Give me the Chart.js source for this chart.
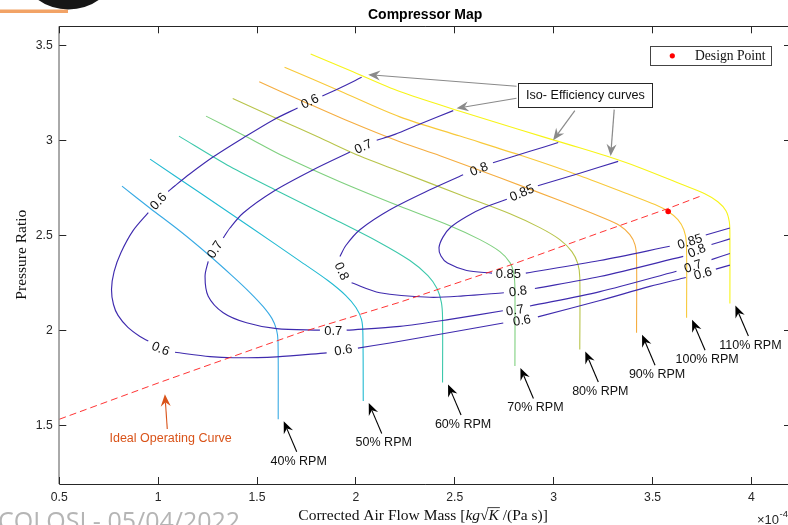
<!DOCTYPE html>
<html>
<head>
<meta charset="utf-8">
<title>Compressor Map</title>
<script src="https://cdn.jsdelivr.net/npm/chart.js@4.4.1/dist/chart.umd.min.js"></script>
<style>
  html, body { margin: 0; padding: 0; background: #ffffff; overflow: hidden; }
  #wrap { width: 788px; height: 525px; overflow: hidden; position: relative; }
  canvas { display: block; }
</style>
</head>
<body>
<div id="wrap"><canvas id="map" width="800" height="525"></canvas></div>
<script>
// ---------- axis ticks ----------
const xTicks = [0.5, 1, 1.5, 2, 2.5, 3, 3.5, 4];
const yTicks = [1.5, 2, 2.5, 3, 3.5];

// ---------- constant-speed lines: [corrected air flow mass (x1e-4), pressure ratio] ----------
const speed40 = [[0.817,2.760],[0.959,2.644],[1.110,2.524],[1.247,2.406],[1.373,2.290],[1.464,2.201],[1.530,2.128],[1.575,2.065],[1.598,2.007],[1.606,1.944],[1.607,1.535]];
const speed50 = [[0.959,2.902],[1.211,2.725],[1.464,2.547],[1.717,2.366],[1.858,2.264],[1.949,2.185],[2.000,2.122],[2.028,2.060],[2.035,1.991],[2.037,1.631]];
const speed60 = [[1.105,3.023],[1.363,2.863],[1.616,2.728],[1.869,2.597],[2.121,2.463],[2.273,2.369],[2.364,2.290],[2.410,2.222],[2.432,2.149],[2.438,2.070],[2.438,1.728]];
const speed70 = [[1.242,3.128],[1.439,3.024],[1.632,2.918],[1.919,2.783],[2.222,2.654],[2.475,2.552],[2.627,2.479],[2.728,2.416],[2.779,2.358],[2.799,2.296],[2.804,2.217],[2.804,1.815]];
const speed80 = [[1.377,3.220],[1.616,3.108],[1.818,3.014],[2.020,2.918],[2.222,2.837],[2.526,2.715],[2.779,2.615],[2.930,2.542],[3.031,2.479],[3.092,2.416],[3.122,2.353],[3.132,2.280],[3.132,1.902]];
const speed90 = [[1.511,3.308],[1.717,3.213],[1.970,3.098],[2.222,2.993],[2.425,2.920],[2.728,2.804],[3.031,2.684],[3.234,2.600],[3.335,2.552],[3.385,2.505],[3.411,2.453],[3.419,2.385],[3.419,1.990]];
const speed100 = [[1.639,3.385],[1.919,3.260],[2.222,3.124],[2.526,3.023],[2.844,2.918],[3.132,2.815],[3.385,2.715],[3.512,2.663],[3.579,2.627],[3.628,2.584],[3.658,2.531],[3.671,2.463],[3.672,2.068]];
const speed110 = [[1.771,3.454],[1.970,3.368],[2.222,3.257],[2.526,3.154],[2.829,3.056],[3.082,2.977],[3.267,2.918],[3.436,2.857],[3.653,2.767],[3.764,2.720],[3.830,2.678],[3.871,2.631],[3.888,2.573],[3.891,2.505],[3.891,2.143]];
const speedNames = ['40% RPM','50% RPM','60% RPM','70% RPM','80% RPM','90% RPM','100% RPM','110% RPM'];

// ---------- iso-efficiency contours (null marks the break where the level label sits) ----------
const effLevels = [0.6, 0.7, 0.8, 0.85];
const eff60 = [[2.029,3.332],[1.919,3.276],[1.830,3.234], null,
  [1.705,3.171],[1.582,3.108],[1.439,3.019],[1.279,2.914],[1.161,2.825],[1.085,2.762],[1.051,2.732], null,
  [0.950,2.621],[0.873,2.526],[0.812,2.411],[0.777,2.311],[0.764,2.217],[0.774,2.138],[0.797,2.081],[0.847,2.018],[0.908,1.970],[0.950,1.946], null,
  [1.085,1.887],[1.262,1.864],[1.380,1.858],[1.599,1.863],[1.852,1.884], null,
  [2.010,1.909],[2.172,1.936],[2.475,1.991],[2.745,2.041], null,
  [2.920,2.073],[3.234,2.159],[3.486,2.233],[3.668,2.280], null,
  [3.820,2.324],[3.891,2.345]];
const eff60Labels = [[1.767,3.205],[1.001,2.680],[1.012,1.906],[1.936,1.899],[2.839,2.054],[3.754,2.301]];

const eff70 = [[2.492,3.157],[2.324,3.087],[2.197,3.032],[2.105,3.001], null,
  [1.970,2.939],[1.784,2.846],[1.582,2.732],[1.430,2.619],[1.363,2.540],[1.329,2.488], null,
  [1.253,2.365],[1.237,2.287],[1.253,2.182],[1.329,2.095],[1.447,2.042],[1.599,2.011],[1.818,2.003], null,
  [1.953,2.003],[2.222,2.023],[2.475,2.060],[2.743,2.105], null,
  [2.880,2.130],[3.234,2.206],[3.621,2.313], null,
  [3.798,2.374],[3.891,2.406]];
const eff70Labels = [[2.037,2.968],[1.287,2.427],[1.885,1.997],[2.804,2.108],[3.705,2.339]];

const eff80 = [[3.023,2.989],[2.880,2.943],[2.693,2.883], null,
  [2.542,2.820],[2.374,2.741],[2.172,2.636],[2.020,2.531],[1.949,2.448],[1.919,2.390], null,
  [1.978,2.252],[2.121,2.200],[2.374,2.176],[2.542,2.183],[2.748,2.200], null,
  [2.905,2.222],[3.234,2.285],[3.655,2.391], null,
  [3.798,2.453],[3.891,2.483]];
const eff80Labels = [[2.622,2.850],[1.928,2.313],[2.819,2.208],[3.724,2.421]];

const eff85 = [[3.326,2.890],[3.132,2.828],[2.920,2.762], null,
  [2.763,2.691],[2.652,2.649],[2.560,2.601],[2.480,2.545],[2.440,2.492],[2.420,2.437],[2.430,2.393],[2.463,2.356],[2.560,2.317],[2.688,2.303], null,
  [2.859,2.303],[3.234,2.369],[3.587,2.444], null,
  [3.769,2.503],[3.891,2.540]];
const eff85Labels = [[2.839,2.725],[2.771,2.299],[3.689,2.469]];

// ---------- ideal operating curve and design point ----------
const opCurve = [[0.5,1.535],[1.009,1.729],[1.717,1.990],[2.222,2.150],[2.794,2.350],[3.234,2.516],[3.577,2.642],[3.749,2.710]];
const designPoint = [[3.579,2.627]];

// ---------- drawing setup ----------
const SANS = '"Liberation Sans", Arial, Helvetica, sans-serif';
const SERIF = '"Liberation Serif", "Times New Roman", serif';
const speedLines = [speed40, speed50, speed60, speed70, speed80, speed90, speed100, speed110];
const speedColors = ['#38aae4', '#22bad2', '#3cc8ab', '#7fd07f', '#b8c44a', '#f5ad40', '#f8c93a', '#f7f418'];
const effSets = [
  { level: effLevels[0], pts: eff60, labels: eff60Labels },
  { level: effLevels[1], pts: eff70, labels: eff70Labels },
  { level: effLevels[2], pts: eff80, labels: eff80Labels },
  { level: effLevels[3], pts: eff85, labels: eff85Labels }
];
const EFF_COLOR = '#3f2bae';

// annotation anchors, in axis units
const isoNote = {
  box: [2.821, 3.302, 3.500, 3.175],
  text: 'Iso- Efficiency curves',
  arrows: [
    [[2.812,3.285],[2.062,3.346]],
    [[2.812,3.222],[2.509,3.169]],
    [[3.107,3.157],[2.997,3.001]],
    [[3.306,3.162],[3.288,2.918]]
  ]
};
const opNote = { text: 'Ideal Operating Curve', tail: [1.046,1.484], tip: [1.034,1.666], label: [1.063,1.434] };

function toXY(arr) {
  let lastX = null;
  return arr.map(p => {
    if (p) { lastX = p[0]; return { x: p[0], y: p[1] }; }
    return { x: lastX, y: null };
  });
}

function drawArrow(ctx, tx, ty, hx, hy, color, lw) {
  const ang = Math.atan2(hy - ty, hx - tx);
  const L = 12, W = 5, N = 4;
  ctx.save();
  ctx.strokeStyle = color; ctx.fillStyle = color; ctx.lineWidth = lw;
  ctx.beginPath();
  ctx.moveTo(tx, ty);
  ctx.lineTo(hx - Math.cos(ang) * (L - N), hy - Math.sin(ang) * (L - N));
  ctx.stroke();
  ctx.translate(hx, hy); ctx.rotate(ang);
  ctx.beginPath();
  ctx.moveTo(0, 0); ctx.lineTo(-L, -W); ctx.lineTo(-L + N, 0); ctx.lineTo(-L, W);
  ctx.closePath(); ctx.fill();
  ctx.restore();
}

const mapDecor = {
  id: 'mapDecor',
  afterDraw(chart) {
    const { ctx, chartArea: a, scales } = chart;
    const xs = scales.x, ys = scales.y;
    const P = p => [xs.getPixelForValue(p[0]), ys.getPixelForValue(p[1])];
    const snap = v => Math.round(v - 0.5) + 0.5;

    ctx.save();
    // axes box
    ctx.strokeStyle = '#262626'; ctx.lineWidth = 1;
    ctx.beginPath();
    ctx.moveTo(a.left, snap(a.top)); ctx.lineTo(a.right, snap(a.top));
    ctx.moveTo(a.left, snap(a.bottom) + 1); ctx.lineTo(a.right, snap(a.bottom) + 1);
    ctx.stroke();
    ctx.strokeStyle = '#555555';
    ctx.beginPath(); ctx.moveTo(59, a.top); ctx.lineTo(59, a.bottom + 1); ctx.stroke();
    ctx.beginPath(); ctx.moveTo(a.right, a.top); ctx.lineTo(a.right, a.bottom); ctx.stroke();

    // inward tick marks
    const TL = 7;
    ctx.strokeStyle = '#262626';
    ctx.beginPath();
    xTicks.forEach(v => {
      const px = snap(xs.getPixelForValue(v));
      ctx.moveTo(px, a.bottom + 1); ctx.lineTo(px, a.bottom + 1 - TL);
      ctx.moveTo(px, a.top); ctx.lineTo(px, a.top + TL);
    });
    yTicks.forEach(v => {
      const py = snap(ys.getPixelForValue(v));
      ctx.moveTo(a.left, py); ctx.lineTo(a.left + TL, py);
      ctx.moveTo(a.right, py); ctx.lineTo(a.right - TL, py);
    });
    ctx.stroke();

    // contour level labels, rotated along the line
    ctx.fillStyle = '#111111';
    ctx.font = `13px ${SANS}`;
    ctx.textAlign = 'center'; ctx.textBaseline = 'middle';
    effSets.forEach(set => {
      const gaps = [];
      set.pts.forEach((p, i) => { if (p === null) gaps.push(i); });
      set.labels.forEach((lp, k) => {
        const g = gaps[k];
        const [x0, y0] = P(set.pts[g - 1]);
        const [x1, y1] = P(set.pts[g + 1]);
        let ang = Math.atan2(y1 - y0, x1 - x0);
        if (ang > Math.PI / 2) ang -= Math.PI;
        if (ang < -Math.PI / 2) ang += Math.PI;
        const [px, py] = P(lp);
        ctx.save(); ctx.translate(px, py); ctx.rotate(ang);
        ctx.fillText(String(set.level), 0, 0.5);
        ctx.restore();
      });
    });

    // speed line call-outs
    ctx.font = `12.5px ${SANS}`;
    ctx.fillStyle = '#111111';
    speedLines.forEach((line, i) => {
      const [ex, ey] = P(line[line.length - 1]);
      const tipX = ex + 5.5, tipY = ey + 2;
      drawArrow(ctx, tipX + 13, tipY + 30.5, tipX, tipY, '#000000', 1.1);
      ctx.fillText(speedNames[i], tipX + 15, tipY + 40);
    });

    // iso-efficiency note
    const [bx0, by0] = P([isoNote.box[0], isoNote.box[1]]);
    const [bx1, by1] = P([isoNote.box[2], isoNote.box[3]]);
    isoNote.arrows.forEach(([t, h]) => {
      const [tx, ty] = P(t), [hx, hy] = P(h);
      drawArrow(ctx, tx, ty, hx, hy, '#8a8a8a', 1.2);
    });
    ctx.fillStyle = '#ffffff';
    ctx.fillRect(bx0, by0, bx1 - bx0, by1 - by0);
    ctx.strokeStyle = '#262626'; ctx.lineWidth = 1;
    ctx.strokeRect(snap(bx0), snap(by0), Math.round(bx1 - bx0), Math.round(by1 - by0));
    ctx.fillStyle = '#111111';
    ctx.font = `12.6px ${SANS}`;
    ctx.fillText(isoNote.text, (bx0 + bx1) / 2, (by0 + by1) / 2 + 0.5);

    // ideal operating curve note
    const [otx, oty] = P(opNote.tail), [ohx, ohy] = P(opNote.tip);
    drawArrow(ctx, otx, oty, ohx, ohy, '#d95319', 1.1);
    const [olx, oly] = P(opNote.label);
    ctx.fillStyle = '#d95319';
    ctx.font = `12.5px ${SANS}`;
    ctx.fillText(opNote.text, olx, oly);

    // legend
    const lx = a.right - 141, ly = a.top + 20;
    ctx.fillStyle = '#ffffff';
    ctx.fillRect(lx, ly, 120.7, 19);
    ctx.strokeStyle = '#444444';
    ctx.strokeRect(snap(lx), snap(ly), 121, 19);
    ctx.fillStyle = '#ff0000';
    ctx.beginPath(); ctx.arc(lx + 22.3, ly + 9.5, 2.6, 0, Math.PI * 2); ctx.fill();
    ctx.fillStyle = '#111111';
    ctx.font = `13.6px ${SERIF}`;
    ctx.textAlign = 'left';
    ctx.fillText('Design Point', lx + 45, ly + 9.8);

    // title
    ctx.textAlign = 'center';
    ctx.font = `bold 14px ${SANS}`;
    ctx.fillStyle = '#000000';
    ctx.fillText('Compressor Map', (a.left + a.right) / 2, 15);

    // y label
    ctx.save();
    ctx.translate(22, (a.top + a.bottom) / 2);
    ctx.rotate(-Math.PI / 2);
    ctx.font = `15.5px ${SERIF}`;
    ctx.fillStyle = '#111111';
    ctx.fillText('Pressure Ratio', 0, 0);
    ctx.restore();

    // x label with inline math
    const fsz = 15.5;
    const fN = `${fsz}px ${SERIF}`, fI = `italic ${fsz}px ${SERIF}`;
    const segs = [
      { t: 'Corrected Air Flow Mass [', f: fN },
      { t: 'kg', f: fI },
      { t: '\u221A', f: fN },
      { t: 'K', f: fI, over: true },
      { t: ' /(Pa s)]', f: fN }
    ];
    let total = 0;
    segs.forEach(s => { ctx.font = s.f; s.w = ctx.measureText(s.t).width; total += s.w; });
    let cx = (a.left + a.right) / 2 - total / 2 - 2;
    const baseY = 520;
    ctx.textAlign = 'left'; ctx.textBaseline = 'alphabetic';
    ctx.fillStyle = '#111111';
    segs.forEach(s => {
      ctx.font = s.f;
      ctx.fillText(s.t, cx, baseY);
      if (s.over) {
        ctx.strokeStyle = '#111111'; ctx.lineWidth = 0.8;
        ctx.beginPath();
        ctx.moveTo(cx - 1, baseY - fsz * 0.80);
        ctx.lineTo(cx + s.w + 1, baseY - fsz * 0.80);
        ctx.stroke();
      }
      cx += s.w;
    });

    // exponent
    ctx.font = `13px ${SANS}`;
    ctx.fillStyle = '#262626';
    ctx.fillText('\u00D710', 757, 524);
    const ew = ctx.measureText('\u00D710').width;
    ctx.font = `9.5px ${SANS}`;
    ctx.fillText('-4', 757 + ew + 0.5, 516.5);

    // slide footer and logo fragments
    ctx.font = `25px "Open Sans", ${SANS}`;
    ctx.fillStyle = '#b5b5b5';
    ctx.fillText('COLOSI - 05/04/2022', -2, 530);
    ctx.fillStyle = '#f2a366';
    ctx.fillRect(0, 9.5, 68, 3.5);
    ctx.fillStyle = '#161616';
    ctx.beginPath(); ctx.ellipse(68.5, -22, 42, 31.5, 0, 0, Math.PI * 2); ctx.fill();

    ctx.restore();
  }
};

const datasets = [];
datasets.push({
  data: toXY(designPoint), showLine: false, pointRadius: 2.8, pointHoverRadius: 2.8,
  pointBackgroundColor: '#ff0000', pointBorderWidth: 0, order: 0
});
datasets.push({
  data: toXY(opCurve), showLine: true, borderColor: 'rgba(255,30,30,0.9)', borderWidth: 1,
  borderDash: [7, 4], pointRadius: 0, tension: 0, order: 1
});
effSets.forEach(set => datasets.push({
  data: toXY(set.pts), showLine: true, spanGaps: false, borderColor: EFF_COLOR, borderWidth: 1.15,
  pointRadius: 0, tension: 0.3, order: 2
}));
speedLines.forEach((line, i) => datasets.push({
  data: toXY(line), showLine: true, borderColor: speedColors[i], borderWidth: 1.1,
  pointRadius: 0, tension: 0.3, order: 3
}));

new Chart(document.getElementById('map'), {
  type: 'scatter',
  data: { datasets },
  options: {
    responsive: false,
    animation: false,
    devicePixelRatio: 1,
    events: [],
    layout: { padding: { top: 26.3, right: 9, bottom: 0, left: 0 } },
    plugins: { legend: { display: false }, tooltip: { enabled: false }, title: { display: false } },
    scales: {
      x: {
        type: 'linear', min: 0.5, max: 4.2,
        afterFit: s => { s.height = 42; },
        afterBuildTicks: s => { s.ticks = xTicks.map(v => ({ value: v })); },
        grid: { display: false, drawTicks: false },
        border: { display: false },
        ticks: { padding: 7, color: '#262626', font: { family: SANS, size: 12.2 }, maxRotation: 0, autoSkip: false,
                 callback: v => String(v) }
      },
      y: {
        type: 'linear', min: 1.2, max: 3.6,
        afterFit: s => { s.width = 59.3; },
        afterBuildTicks: s => { s.ticks = yTicks.map(v => ({ value: v })); },
        grid: { display: false, drawTicks: false },
        border: { display: false },
        ticks: { padding: 6.6, color: '#262626', font: { family: SANS, size: 12.2 }, autoSkip: false,
                 callback: v => String(v) }
      }
    }
  },
  plugins: [mapDecor]
});
</script>
</body>
</html>
